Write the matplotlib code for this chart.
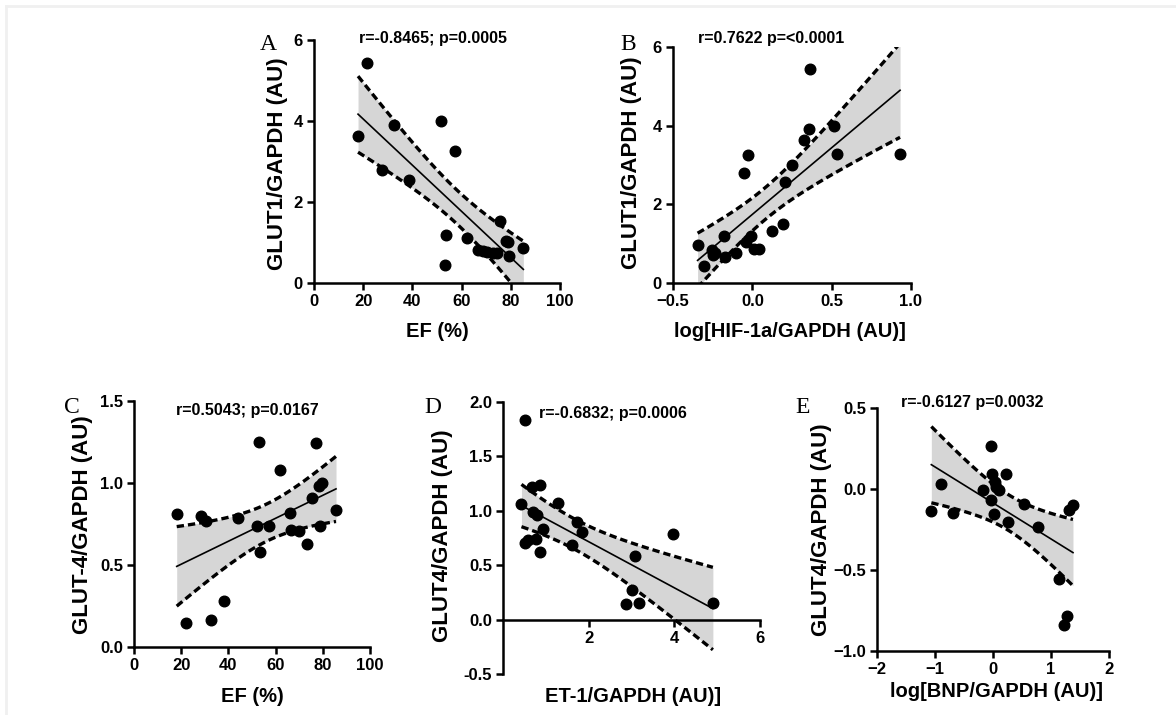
import numpy as np
import matplotlib
matplotlib.use("Agg")
import matplotlib.pyplot as plt
from matplotlib.lines import Line2D

plt.rcParams['font.family'] = ['Liberation Sans', 'DejaVu Sans']

# Panel A: EF vs GLUT1
a_x = [21.7, 17.9, 32.4, 27.8, 38.7, 51.8, 57.5, 53.6, 53.2, 62.3, 66.8, 68.8,
       70.4, 72.6, 74.2, 75.8, 78.0, 79.0, 79.1, 85.1]
a_y = [5.44, 3.62, 3.90, 2.79, 2.55, 4.00, 3.27, 1.19, 0.45, 1.11, 0.82, 0.80,
       0.76, 0.74, 0.74, 1.52, 1.03, 1.01, 0.66, 0.86]

# Panel B: log HIF-1a vs GLUT1
b_x = [-0.345, -0.303, -0.255, -0.234, -0.245, -0.177, -0.171, -0.101, -0.055, -0.028,
       -0.041, -0.009, 0.012, 0.043, 0.123, 0.196, 0.203, 0.253, 0.327, 0.358,
       0.364, 0.515, 0.536, 0.931]
b_y = [0.97, 0.44, 0.85, 0.76, 0.70, 1.20, 0.66, 0.76, 2.80, 3.26,
       1.03, 1.20, 0.86, 0.86, 1.31, 1.51, 2.56, 3.01, 3.63, 3.92,
       5.44, 4.00, 3.28, 3.28]

# Panel C: EF vs GLUT-4
c_x = [18.1, 22.0, 28.2, 30.5, 32.5, 38.1, 43.9, 52.0, 53.1, 53.4, 57.3, 61.9,
       66.1, 66.4, 70.1, 73.4, 75.4, 77.1, 78.5, 79.5, 78.8, 85.6]
c_y = [0.809, 0.146, 0.801, 0.769, 0.162, 0.278, 0.785, 0.740, 1.252, 0.582, 0.740, 1.079,
       0.815, 0.714, 0.708, 0.627, 0.911, 1.245, 0.984, 0.998, 0.740, 0.836]

# Panel D: ET-1 vs GLUT4
d_x = [0.525, 0.431, 0.525, 0.588, 0.761, 0.667, 0.863, 0.706, 0.784, 0.863, 0.941,
       1.294, 1.608, 1.725, 1.843, 3.08, 3.02, 2.88, 3.18, 3.96, 4.90]
d_y = [1.83, 1.06, 0.70, 0.73, 0.74, 1.22, 1.24, 0.99, 0.965, 0.62, 0.83,
       1.075, 0.69, 0.90, 0.805, 0.58, 0.27, 0.14, 0.156, 0.79, 0.156]

# Panel E: log BNP vs GLUT4
e_x = [-1.063, -0.891, -0.690, -0.172, -0.029, -0.011, 0.029, 0.057, 0.103, -0.029,
       0.011, 0.230, 0.259, 0.534, 0.776, 1.138, 1.218, 1.282, 1.310, 1.379]
e_y = [-0.138, 0.029, -0.146, -0.008, 0.265, 0.095, 0.043, 0.012, -0.008, -0.07,
       -0.152, 0.095, -0.204, -0.095, -0.235, -0.553, -0.842, -0.786, -0.132, -0.101]

stats_text = ["r=-0.8465; p=0.0005", "r=0.7622 p=<0.0001", "r=0.5043; p=0.0167",
              "r=-0.6832; p=0.0006", "r=-0.6127 p=0.0032"]


def reg_band(x, y):
    # linear fit + 95% confidence band, like Prism draws it
    x = np.asarray(x)
    y = np.asarray(y)
    n = len(x)
    slope, icpt = np.polyfit(x, y, 1)
    xs = np.linspace(x.min(), x.max(), 100)
    fit = icpt + slope * xs
    resid = y - (icpt + slope * x)
    s = np.sqrt(np.sum(resid ** 2) / (n - 2))
    se = s * np.sqrt(1 / n + (xs - x.mean()) ** 2 / np.sum((x - x.mean()) ** 2))
    t = 2.09
    return xs, fit, fit + t * se, fit - t * se


def draw_panel(rect, x, y, letter, stat, xlabel, ylabel, xlim, ylim, xticks, yticks,
               ylab_pos, xlab_pos, stat_pos, letter_pos, xzero=False, yfmt=None):
    ax = fig.add_axes(rect)
    xs, fit, up, lo = reg_band(x, y)
    ax.fill_between(xs, lo, up, color='#d6d6d6', lw=0, zorder=1)
    ax.plot(xs, up, color='black', lw=2.4, ls=(0, (2.2, 1.2)), zorder=2)
    ax.plot(xs, lo, color='black', lw=2.4, ls=(0, (2.2, 1.2)), zorder=2)
    ax.plot(xs, fit, color='black', lw=1.2, zorder=2)
    ax.scatter(x, y, s=58, color='black', zorder=3, clip_on=False)
    ax.set_xlim(xlim)
    ax.set_ylim(ylim)
    ax.set_xticks(xticks)
    ax.set_yticks(yticks)
    if yfmt:
        ax.yaxis.set_major_formatter(matplotlib.ticker.FormatStrFormatter(yfmt))
    for sp in ['top', 'right']:
        ax.spines[sp].set_visible(False)
    for sp in ['left', 'bottom']:
        ax.spines[sp].set_linewidth(1.8)
    if xzero:
        ax.spines['bottom'].set_position(('data', 0))
    ax.tick_params(direction='out', length=5, width=1.8, labelsize=12, pad=3)
    for lab in ax.get_xticklabels() + ax.get_yticklabels():
        lab.set_fontweight('bold')
    ax.set_xlabel(xlabel, fontsize=14.5, fontweight='bold', va='top')
    ax.set_ylabel(ylabel, fontsize=16, fontweight='bold')
    ax.yaxis.set_label_coords(*ylab_pos)
    ax.xaxis.set_label_coords(*xlab_pos)
    fig.text(stat_pos[0] / W, 1 - stat_pos[1] / H, stat, fontsize=11.5, fontweight='bold',
             ha='center', va='center')
    fig.text(letter_pos[0] / W, 1 - letter_pos[1] / H, letter, fontsize=17,
             family='Liberation Serif', ha='center', va='center')
    return ax


W, H = 1176, 715
fig = plt.figure(figsize=(W / 100, H / 100), dpi=100)

# light frame at the top-left edges
fig.add_artist(Line2D([6 / W, 6 / W], [0, 1 - 6 / H], color='#f0f0f0', lw=2))
fig.add_artist(Line2D([6 / W, 1], [1 - 6 / H, 1 - 6 / H], color='#f0f0f0', lw=2))

draw_panel([314 / W, 1 - 283 / H, 246 / W, 243 / H], a_x, a_y, "A", stats_text[0],
           "EF (%)", "GLUT1/GAPDH (AU)", (0, 100), (0, 6),
           [0, 20, 40, 60, 80, 100], [0, 2, 4, 6],
           (-0.106, 0.49), (0.5, -0.16), (433, 39), (268, 45))

draw_panel([673 / W, 1 - 283 / H, 238 / W, 236 / H], b_x, b_y, "B", stats_text[1],
           "log[HIF-1a/GAPDH (AU)]", "GLUT1/GAPDH (AU)", (-0.5, 1.0), (0, 6),
           [-0.5, 0.0, 0.5, 1.0], [0, 2, 4, 6],
           (-0.13, 0.51), (0.49, -0.165), (771, 39), (628, 45))

draw_panel([134 / W, 1 - 647 / H, 236 / W, 246 / H], c_x, c_y, "C", stats_text[2],
           "EF (%)", "GLUT-4/GAPDH (AU)", (0, 100), (0, 1.5),
           [0, 20, 40, 60, 80, 100], [0.0, 0.5, 1.0, 1.5],
           (-0.174, 0.496), (0.5, -0.163), (247, 410), (72, 408))

draw_panel([503 / W, 1 - 674 / H, 257 / W, 272 / H], d_x, d_y, "D", stats_text[3],
           "ET-1/GAPDH (AU)]", "GLUT4/GAPDH (AU)", (0, 6), (-0.5, 2.0),
           [2, 4, 6], [-0.5, 0.0, 0.5, 1.0, 1.5, 2.0],
           (-0.195, 0.507), (0.506, -0.048), (613, 413), (433, 408),
           xzero=True, yfmt='%.1f')

draw_panel([877 / W, 1 - 651 / H, 232 / W, 243 / H], e_x, e_y, "E", stats_text[4],
           "log[BNP/GAPDH (AU)]", "GLUT4/GAPDH (AU)", (-2, 2), (-1.0, 0.5),
           [-2, -1, 0, 1, 2], [-1.0, -0.5, 0.0, 0.5],
           (-0.194, 0.498), (0.517, -0.128), (972, 402), (803, 408))

fig.savefig("out.png", dpi=100)
